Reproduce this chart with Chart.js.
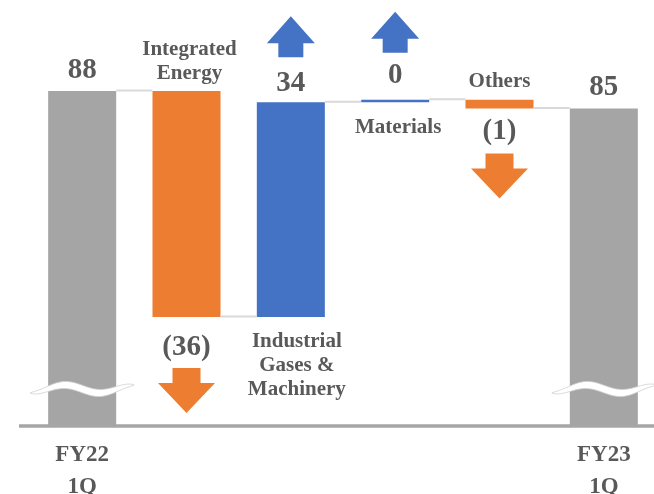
<!DOCTYPE html>
<html>
<head>
<meta charset="utf-8">
<script src="https://cdn.jsdelivr.net/npm/chart.js@4.4.1/dist/chart.umd.min.js"></script>
<style>
  html, body { margin: 0; padding: 0; background: #ffffff; overflow: hidden; }
  #wrap { width: 654px; height: 494px; overflow: hidden; }
</style>
</head>
<body>
<div id="wrap"><canvas id="c" width="656" height="494"></canvas></div>
<script>
// Waterfall of the quarter's result by segment
const categories = ['FY22 1Q', 'Integrated Energy', 'Industrial Gases & Machinery', 'Materials', 'Others', 'FY23 1Q'];
const tickLabels = [['FY22', '1Q'], '', '', '', '', ['FY23', '1Q']];
const startTotal = 88.0;
const changes = [-36.0, 34.2, 0.4, -1.4];
const endTotal = 85.2;
const segmentNameLines = [['Integrated', 'Energy'], ['Industrial', 'Gases &', 'Machinery'], ['Materials'], ['Others']];
const axisRange = [34.8, 102.5];   // broken value axis: the totals are cut off at the floor

// Floating [low, high] ranges and running levels built from the arrays above
const ranges = [[axisRange[0], startTotal]];
const levels = [startTotal];
let running = startTotal;
changes.forEach(d => {
  const next = running + d;
  ranges.push([Math.min(running, next), Math.max(running, next)]);
  running = next;
  levels.push(running);
});
ranges.push([axisRange[0], endTotal]);

const GRAY = '#a5a5a5', ORANGE = '#ed7d31', BLUE = '#4472c4', TEXT = '#595959';
const SERIF = '"Liberation Serif", "Times New Roman", serif';
const barColors = [GRAY, ...changes.map(d => (d < 0 ? ORANGE : BLUE)), GRAY];

const fmt = v => (v < 0 ? '(' + Math.round(-v) + ')' : String(Math.round(v)));

// per-segment placement of value label, arrow and name (pixels from the bar edge)
const segStyle = [
  { valueGap: 38, arrowGap: 51, nameGap: 12, nameDx: 3 },
  { valueGap: 11, arrowGap: 45, nameGap: 30, nameDx: 6 },
  { valueGap: 17, arrowGap: 47, nameGap: 31, nameDx: 3 },
  { valueGap: 30, arrowGap: 45, nameGap: 13, nameDx: 0 }
];

function drawArrow(ctx, cx, startY, dir, color) {
  // dir = -1 points up, +1 points down; startY is the tail end
  const len = dir < 0 ? 41 : 45;
  const headH = dir < 0 ? 27 : 30;
  const headW = dir < 0 ? 48 : 57;
  const shaftW = dir < 0 ? 25 : 28;
  const tip = startY + dir * len;
  const neck = tip - dir * headH;
  ctx.beginPath();
  ctx.moveTo(cx - shaftW / 2, startY);
  ctx.lineTo(cx + shaftW / 2, startY);
  ctx.lineTo(cx + shaftW / 2, neck);
  ctx.lineTo(cx + headW / 2, neck);
  ctx.lineTo(cx, tip);
  ctx.lineTo(cx - headW / 2, neck);
  ctx.lineTo(cx - shaftW / 2, neck);
  ctx.closePath();
  ctx.fillStyle = color;
  ctx.fill();
}

function drawBreak(ctx, cx, cy, half) {
  const N = 48, upper = [], lower = [];
  for (let k = 0; k <= N; k++) {
    const t = -1 + 2 * k / N;
    const x = cx + t * half;
    const yc = cy + 4 * Math.sin(1.5 * Math.PI * t);
    const th = 3.8 * Math.pow(Math.max(0, 1 - t * t), 0.6);
    upper.push([x, yc - th]);
    lower.push([x, yc + th]);
  }
  ctx.beginPath();
  ctx.moveTo(upper[0][0], upper[0][1]);
  upper.forEach(p => ctx.lineTo(p[0], p[1]));
  for (let k = N; k >= 0; k--) ctx.lineTo(lower[k][0], lower[k][1]);
  ctx.closePath();
  ctx.fillStyle = '#ffffff';
  ctx.fill();
  ctx.strokeStyle = '#d0d0d0';
  ctx.lineWidth = 0.8;
  ctx.stroke();
}

const waterfallDecor = {
  id: 'waterfallDecor',
  afterDatasetsDraw(chart) {
    const ctx = chart.ctx;
    const yScale = chart.scales.y;
    const area = chart.chartArea;
    const bars = chart.getDatasetMeta(0).data.map(b => {
      const p = b.getProps(['x', 'y', 'base', 'width'], true);
      return { x: p.x, w: p.width, top: Math.min(p.y, p.base), bottom: Math.max(p.y, p.base) };
    });
    ctx.save();

    // connectors at each running level
    ctx.strokeStyle = '#d9d9d9';
    ctx.lineWidth = 2;
    for (let i = 0; i < bars.length - 1; i++) {
      const py = yScale.getPixelForValue(levels[i]) - 0.5;
      ctx.beginPath();
      ctx.moveTo(bars[i].x + bars[i].w / 2, py);
      ctx.lineTo(bars[i + 1].x - bars[i + 1].w / 2, py);
      ctx.stroke();
    }

    // axis-break marks across the total bars
    [0, bars.length - 1].forEach(i => drawBreak(ctx, bars[i].x, area.bottom - 36, 52));

    // base line
    ctx.strokeStyle = '#a6a6a6';
    ctx.lineWidth = 3.5;
    ctx.beginPath();
    ctx.moveTo(19, area.bottom + 1);
    ctx.lineTo(chart.width, area.bottom + 1);
    ctx.stroke();

    ctx.fillStyle = TEXT;
    ctx.textAlign = 'center';
    ctx.textBaseline = 'alphabetic';

    // totals
    ctx.font = 'bold 29px ' + SERIF;
    ctx.fillText(fmt(startTotal), bars[0].x, bars[0].top - 13);
    const last = bars[bars.length - 1];
    ctx.fillText(fmt(endTotal), last.x, last.top - 14);

    // segments
    changes.forEach((d, j) => {
      const b = bars[j + 1];
      const s = segStyle[j];
      const down = d < 0;
      const color = down ? ORANGE : BLUE;
      ctx.fillStyle = TEXT;
      ctx.font = 'bold 29px ' + SERIF;
      const vy = down ? b.bottom + s.valueGap : b.top - s.valueGap;
      ctx.fillText(fmt(d), b.x, vy);
      drawArrow(ctx, b.x, down ? b.bottom + s.arrowGap : b.top - s.arrowGap, down ? 1 : -1, color);

      ctx.fillStyle = TEXT;
      ctx.font = 'bold 21px ' + SERIF;
      const lines = segmentNameLines[j];
      const lh = 24;
      lines.forEach((t, k) => {
        const ly = down
          ? b.top - s.nameGap - (lines.length - 1 - k) * lh
          : b.bottom + s.nameGap + k * lh;
        ctx.fillText(t, b.x + s.nameDx, ly);
      });
    });
    ctx.restore();
  }
};

new Chart(document.getElementById('c'), {
  type: 'bar',
  data: {
    labels: categories,
    datasets: [{
      data: ranges,
      backgroundColor: barColors,
      borderWidth: 0,
      barPercentage: 0.652,
      categoryPercentage: 1.0
    }]
  },
  options: {
    responsive: false,
    devicePixelRatio: 1,
    animation: false,
    layout: { padding: { left: 30, right: 0, top: 0, bottom: 0 } },
    plugins: { legend: { display: false }, tooltip: { enabled: false } },
    scales: {
      x: {
        grid: { display: false, drawTicks: false },
        border: { display: false },
        ticks: {
          color: TEXT,
          font: { family: SERIF, size: 23, weight: 'bold', lineHeight: 1.35 },
          padding: 15,
          maxRotation: 0,
          autoSkip: false,
          callback: (v, i) => tickLabels[i]
        },
        afterFit: s => { s.height = 69; }
      },
      y: { display: false, min: axisRange[0], max: axisRange[1] }
    }
  },
  plugins: [waterfallDecor]
});
</script>
</body>
</html>
